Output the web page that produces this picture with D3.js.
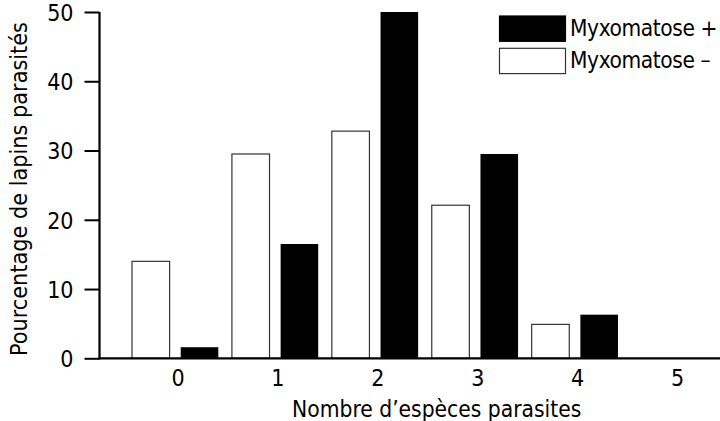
<!DOCTYPE html>
<html>
<head>
<meta charset="utf-8">
<script src="https://cdn.jsdelivr.net/npm/d3@7/dist/d3.min.js"></script>
<style>
  html, body { margin: 0; padding: 0; background: #fff; }
  svg text { font-family: "DejaVu Sans Condensed", "DejaVu Sans", sans-serif; font-stretch: condensed; fill: #000; }
</style>
</head>
<body>
<svg id="chart" width="720" height="421"></svg>
<script>
const categories = [0, 1, 2, 3, 4, 5];
const seriesNames = ["Myxomatose –", "Myxomatose +"];
const myxoMinus = [14.0, 29.5, 32.8, 22.1, 4.9, 0];
const myxoPlus  = [1.6, 16.5, 50.0, 29.5, 6.3, 0];
const yTicks = [0, 10, 20, 30, 40, 50];
const xTickLabels = ["0", "1", "2", "3", "4", "5"];

const svg = d3.select("#chart");
const W = 720, H = 421;
const x0 = 99.5, yBottom = 358.3, yTop = 12;

const x = d3.scaleLinear().domain([0, 5]).range([177.5, 677.1]);
const y = d3.scaleLinear().domain([0, 50]).range([yBottom, yTop]);
const inner = d3.scaleBand().domain(seriesNames).range([-45.5, 40.8]).paddingInner(0.228).paddingOuter(0);

const fills = {"Myxomatose –": "#fff", "Myxomatose +": "#000"};
const strokes = {"Myxomatose –": "#333", "Myxomatose +": "none"};

const rows = categories.map((c, i) => ({c, vals: [myxoMinus[i], myxoPlus[i]]}));

// bars
const g = svg.append("g");
rows.forEach(r => {
  r.vals.forEach((v, k) => {
    if (v <= 0) return;
    const s = seriesNames[k];
    g.append("rect")
      .attr("x", x(r.c) + inner(s))
      .attr("y", y(v))
      .attr("width", inner.bandwidth())
      .attr("height", y(0) - y(v))
      .attr("fill", fills[s])
      .attr("stroke", strokes[s])
      .attr("stroke-width", 1.2);
  });
});

// y axis
const yAxis = d3.axisLeft(y).tickValues(yTicks).tickSize(15).tickPadding(11).tickFormat(d3.format("d"));
const ya = svg.append("g").attr("transform", `translate(${x0},0)`).call(yAxis);
ya.select(".domain").attr("stroke", "#000").attr("stroke-width", 2.2).attr("d", `M0,${yTop}V${yBottom + 1}`);
ya.selectAll(".tick line").attr("stroke", "#000").attr("stroke-width", 2);
ya.selectAll(".tick text").attr("font-size", 23).attr("font-family", null).attr("dy", "0.36em");

// x axis (labels only) + baseline
const xAxis = d3.axisBottom(x).tickValues(categories).tickSize(0).tickPadding(10).tickFormat((d, i) => xTickLabels[i]);
const xa = svg.append("g").attr("transform", `translate(0,${yBottom})`).call(xAxis);
xa.select(".domain").remove();
xa.selectAll(".tick text").attr("font-size", 23).attr("font-family", null).attr("y", 28).attr("dy", null);
svg.append("line").attr("x1", x0 - 1).attr("x2", W).attr("y1", yBottom).attr("y2", yBottom)
  .attr("stroke", "#000").attr("stroke-width", 2.2);

// axis titles
svg.append("text").attr("x", 436.7).attr("y", 416.5).attr("text-anchor", "middle")
  .attr("font-size", 22.6)
  .text("Nombre d’espèces parasites");
svg.append("text").attr("transform", "translate(27,189) rotate(-90)").attr("text-anchor", "middle")
  .attr("font-size", 23.2)
  .text("Pourcentage de lapins parasités");

// legend
const legendOrder = ["Myxomatose +", "Myxomatose –"];
const leg = svg.append("g");
legendOrder.forEach((s, i) => {
  leg.append("rect").attr("x", 499.5).attr("y", 16 + i * 32.3).attr("width", 66).attr("height", 25.3)
    .attr("fill", fills[s]).attr("stroke", s === "Myxomatose +" ? "#000" : "#333").attr("stroke-width", 1.2);
  leg.append("text").attr("x", 570).attr("y", 36 + i * 32).attr("font-size", 22.5)
    .attr("letter-spacing", "-0.4px").text(s);
});
</script>
</body>
</html>
